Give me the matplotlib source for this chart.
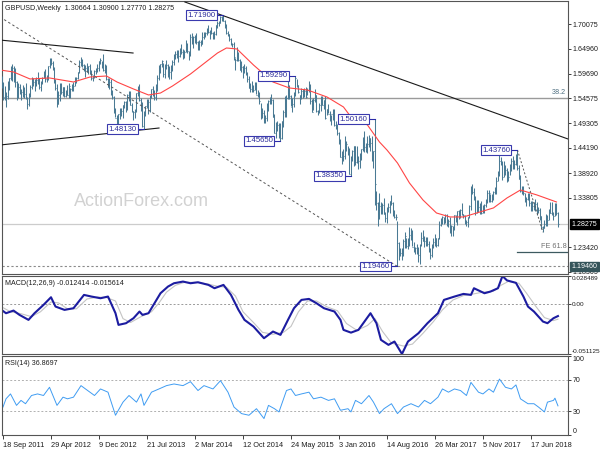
import numpy as np
import matplotlib
matplotlib.use('Agg')
import matplotlib.pyplot as plt
import matplotlib.transforms as mtransforms

plt.rcParams['font.family'] = ['Liberation Sans', 'DejaVu Sans']

# Weekly GBPUSD bars, the first one is the week of 11 Sep 2011 (index -1)
highs = [
    1.5920,
    1.5790, 1.5720,
    1.5590, 1.5810, 1.5880, 1.6140,
    1.6166, 1.6130, 1.6080, 1.5810, 1.5780,
    1.5760, 1.5650, 1.5740, 1.5700,
    1.5780, 1.5480, 1.5560, 1.5740,
    1.5900, 1.5890, 1.5860, 1.5900, 1.6000,
    1.5890, 1.5810, 1.5910, 1.6030,
    1.6060, 1.5940, 1.6140, 1.6290,
    1.6301, 1.6240, 1.6100, 1.5860, 1.5750,
    1.5600, 1.5780, 1.5770, 1.5700,
    1.5690, 1.5640, 1.5740, 1.5780,
    1.5680, 1.5750, 1.5800, 1.5910, 1.5900,
    1.6010, 1.6260, 1.6309, 1.6270,
    1.6180, 1.6160, 1.6190, 1.6140,
    1.6180, 1.6040, 1.5940, 1.6040, 1.6090,
    1.6170, 1.6240, 1.6308, 1.6230,
    1.6380, 1.6170, 1.6150, 1.5890,
    1.5870, 1.5850, 1.5640, 1.5500, 1.5250,
    1.5110, 1.5130, 1.5250, 1.5250,
    1.5310, 1.5410, 1.5410, 1.5540,
    1.5605, 1.5600, 1.5360, 1.5190,
    1.5240, 1.5560, 1.5720, 1.5752, 1.5460,
    1.5370, 1.5190, 1.5300, 1.5440,
    1.5450, 1.5520, 1.5650, 1.5720, 1.5620,
    1.5750, 1.5950, 1.6160, 1.6180,
    1.6260, 1.6190, 1.6180, 1.6260,
    1.6170, 1.6130, 1.6150, 1.6250, 1.6380,
    1.6440, 1.6470, 1.6470, 1.6500,
    1.6600, 1.6490, 1.6460, 1.6670, 1.6620,
    1.6440, 1.6800, 1.6823, 1.6760,
    1.6780, 1.6820, 1.6660, 1.6670,
    1.6670, 1.6840, 1.6840, 1.6850,
    1.6930, 1.6996, 1.6890, 1.6940, 1.6850,
    1.6860, 1.6990, 1.7060, 1.7060,
    1.7180, 1.7180, 1.7190, 1.7090,
    1.7000, 1.6860, 1.6800, 1.6710, 1.6620,
    1.6640, 1.6290, 1.6520, 1.6420,
    1.6280, 1.6230, 1.6140, 1.6180, 1.6140,
    1.6000, 1.5930, 1.5770, 1.5820,
    1.5730, 1.5790, 1.5790, 1.5640,
    1.5590, 1.5360, 1.5250, 1.5220, 1.5110,
    1.5350, 1.5420, 1.5480, 1.5550,
    1.5450, 1.5130, 1.4960, 1.4990,
    1.4950, 1.4950, 1.4990, 1.5210,
    1.5500, 1.5520, 1.5815, 1.5730, 1.5530,
    1.5460, 1.5580, 1.5929, 1.5860,
    1.5730, 1.5530, 1.5670, 1.5660, 1.5670,
    1.5690, 1.5680, 1.5820, 1.5760,
    1.5440, 1.5460, 1.5660, 1.5530,
    1.5210, 1.5360, 1.5510, 1.5510, 1.5430,
    1.5510, 1.5240, 1.5340, 1.5190,
    1.5110, 1.5240, 1.5240, 1.4980,
    1.4920, 1.4760, 1.4600, 1.4350, 1.4400,
    1.4670, 1.4560, 1.4460, 1.4410,
    1.4250, 1.4380, 1.4460, 1.4460,
    1.4460, 1.4260, 1.4320, 1.4400, 1.4640,
    1.4770, 1.4530, 1.4670, 1.4700,
    1.4630, 1.4660, 1.4360, 1.5016, 1.3530,
    1.3300, 1.3480, 1.3300, 1.3260,
    1.3370, 1.3080, 1.3190, 1.3270,
    1.3320, 1.3445, 1.3300, 1.3120, 1.3050,
    1.2900, 1.2450, 1.2340, 1.2330,
    1.2520, 1.2670, 1.2540, 1.2530,
    1.2770, 1.2740, 1.2700, 1.2460, 1.2350,
    1.2420, 1.2350, 1.2420, 1.2670,
    1.2710, 1.2580, 1.2570, 1.2570,
    1.2480, 1.2340, 1.2410, 1.2540, 1.2615,
    1.2550, 1.2550, 1.2900, 1.2965,
    1.2990, 1.2980, 1.3047, 1.3040,
    1.2930, 1.2980, 1.2810, 1.2800, 1.3030,
    1.3030, 1.3110, 1.3120, 1.3150,
    1.3270, 1.3050, 1.3010, 1.2920,
    1.2980, 1.3220, 1.3615, 1.3657, 1.3580,
    1.3420, 1.3340, 1.3340, 1.3260,
    1.3320, 1.3230, 1.3240, 1.3360,
    1.3550, 1.3540, 1.3450, 1.3460, 1.3520,
    1.3610, 1.3820, 1.3940, 1.4345,
    1.4240, 1.4150, 1.4140, 1.4060,
    1.4000, 1.3930, 1.4080, 1.4200, 1.4245,
    1.4170, 1.4290, 1.4376, 1.4060,
    1.3850, 1.3630, 1.3620, 1.3480,
    1.3390, 1.3470, 1.3470, 1.3310, 1.3320,
    1.3300, 1.3360, 1.3290, 1.3180,
    1.3170, 1.3000, 1.2780, 1.2920, 1.3040,
    1.3010, 1.3140, 1.3300, 1.3300,
    1.3090, 1.3260, 1.3260, 1.3090,
]

lows = [
    1.5680,
    1.5420, 1.5430,
    1.5272, 1.5450, 1.5630, 1.5840,
    1.5820, 1.5790, 1.5700, 1.5422, 1.5460,
    1.5540, 1.5424, 1.5490, 1.5460,
    1.5440, 1.5234, 1.5300, 1.5480,
    1.5650, 1.5710, 1.5600, 1.5720, 1.5760,
    1.5650, 1.5600, 1.5760, 1.5870,
    1.5800, 1.5800, 1.5830, 1.6090,
    1.6150, 1.6040, 1.5780, 1.5630, 1.5268,
    1.5330, 1.5400, 1.5540, 1.5500,
    1.5480, 1.5490, 1.5520, 1.5460,
    1.5470, 1.5600, 1.5600, 1.5720, 1.5770,
    1.5860, 1.5990, 1.6140, 1.6100,
    1.6020, 1.5910, 1.6000, 1.5970,
    1.5970, 1.5830, 1.5828, 1.5880, 1.5960,
    1.6000, 1.6030, 1.6170, 1.6080,
    1.6030, 1.5980, 1.5840, 1.5700,
    1.5660, 1.5520, 1.5440, 1.5150, 1.5070,
    1.4930, 1.4831, 1.5020, 1.5080,
    1.5050, 1.5250, 1.5180, 1.5220,
    1.5400, 1.5310, 1.5170, 1.5010,
    1.5050, 1.5170, 1.5500, 1.5390, 1.5190,
    1.4860, 1.4813, 1.5080, 1.5260,
    1.5130, 1.5180, 1.5460, 1.5500, 1.5430,
    1.5430, 1.5600, 1.5840, 1.5980,
    1.6100, 1.5900, 1.5890, 1.6070,
    1.5900, 1.5860, 1.5850, 1.6020, 1.6150,
    1.6280, 1.6300, 1.6220, 1.6310,
    1.6390, 1.6280, 1.6290, 1.6420, 1.6400,
    1.6250, 1.6350, 1.6580, 1.6510,
    1.6620, 1.6590, 1.6460, 1.6470,
    1.6540, 1.6590, 1.6700, 1.6740,
    1.6770, 1.6820, 1.6700, 1.6790, 1.6700,
    1.6690, 1.6770, 1.6920, 1.6960,
    1.7020, 1.7080, 1.7060, 1.6920,
    1.6800, 1.6760, 1.6650, 1.6560, 1.6530,
    1.6250, 1.6050, 1.6230, 1.6240,
    1.6050, 1.6000, 1.5870, 1.5980, 1.5940,
    1.5790, 1.5670, 1.5590, 1.5590,
    1.5590, 1.5630, 1.5540, 1.5480,
    1.5330, 1.5030, 1.5040, 1.4950, 1.4950,
    1.4980, 1.5190, 1.5330, 1.5330,
    1.5060, 1.4740, 1.4630, 1.4770,
    1.4630, 1.4565, 1.4600, 1.4860,
    1.5070, 1.5060, 1.5450, 1.5450, 1.5290,
    1.5170, 1.5270, 1.5500, 1.5700,
    1.5570, 1.5330, 1.5440, 1.5460, 1.5490,
    1.5460, 1.5520, 1.5580, 1.5340,
    1.5160, 1.5220, 1.5380, 1.5160,
    1.5110, 1.5140, 1.5200, 1.5320, 1.5230,
    1.5030, 1.5110, 1.5140, 1.4990,
    1.4900, 1.5010, 1.4870, 1.4810,
    1.4700, 1.4510, 1.4230, 1.4080, 1.4150,
    1.4190, 1.4360, 1.4280, 1.3880,
    1.3835, 1.4150, 1.4050, 1.4060,
    1.4100, 1.3990, 1.4000, 1.4160, 1.4360,
    1.4330, 1.4330, 1.4320, 1.4430,
    1.4350, 1.4150, 1.4010, 1.3220, 1.3120,
    1.2800, 1.2930, 1.3040, 1.3040,
    1.3050, 1.2870, 1.2860, 1.3090,
    1.3070, 1.3220, 1.3000, 1.2950, 1.2920,
    1.1946, 1.2090, 1.2160, 1.2080,
    1.2160, 1.2330, 1.2330, 1.2300,
    1.2380, 1.2500, 1.2370, 1.2240, 1.2200,
    1.2200, 1.2030, 1.1987, 1.2370,
    1.2470, 1.2350, 1.2380, 1.2380,
    1.2250, 1.2110, 1.2150, 1.2340, 1.2380,
    1.2360, 1.2370, 1.2520, 1.2780,
    1.2840, 1.2840, 1.2850, 1.2780,
    1.2770, 1.2640, 1.2590, 1.2590, 1.2700,
    1.2880, 1.2810, 1.2930, 1.2950,
    1.3020, 1.2950, 1.2840, 1.2780,
    1.2775, 1.2950, 1.3120, 1.3450, 1.3330,
    1.3030, 1.3070, 1.3080, 1.3050,
    1.3040, 1.3070, 1.3070, 1.3180,
    1.3280, 1.3300, 1.3300, 1.3300, 1.3340,
    1.3460, 1.3460, 1.3740, 1.3840,
    1.4060, 1.3760, 1.3820, 1.3860,
    1.3710, 1.3720, 1.3860, 1.3940, 1.3990,
    1.3970, 1.4060, 1.3960, 1.3770,
    1.3490, 1.3450, 1.3440, 1.3300,
    1.3200, 1.3330, 1.3200, 1.3100, 1.3100,
    1.3120, 1.3100, 1.3010, 1.3060,
    1.2920, 1.2720, 1.2662, 1.2750, 1.2800,
    1.2790, 1.2920, 1.3060, 1.3030,
    1.2920, 1.2990, 1.3010, 1.2777,
]

closes = [
    1.5790,
    1.5490, 1.5590,
    1.5510, 1.5790, 1.5890, 1.6080,
    1.6080, 1.6080, 1.5800, 1.5490, 1.5700,
    1.5650, 1.5580, 1.5690, 1.5540,
    1.5460, 1.5340, 1.5520, 1.5700,
    1.5810, 1.5800, 1.5810, 1.5830, 1.5820,
    1.5690, 1.5810, 1.5880, 1.5990,
    1.5850, 1.5860, 1.6140, 1.6270,
    1.6190, 1.6080, 1.5810, 1.5670, 1.5340,
    1.5520, 1.5710, 1.5590, 1.5690,
    1.5500, 1.5590, 1.5520, 1.5720,
    1.5650, 1.5670, 1.5720, 1.5790, 1.5880,
    1.6010, 1.6220, 1.6220, 1.6150,
    1.6130, 1.6090, 1.6040, 1.6130,
    1.5990, 1.5890, 1.5900, 1.6030, 1.6070,
    1.6080, 1.6240, 1.6250, 1.6100,
    1.6040, 1.6090, 1.5860, 1.5700,
    1.5790, 1.5600, 1.5490, 1.5170, 1.5050,
    1.4930, 1.5120, 1.5210, 1.5190,
    1.5310, 1.5370, 1.5230, 1.5520,
    1.5560, 1.5320, 1.5200, 1.5180,
    1.5200, 1.5560, 1.5700, 1.5420, 1.5210,
    1.4880, 1.5120, 1.5290, 1.5370,
    1.5370, 1.5480, 1.5650, 1.5570, 1.5490,
    1.5650, 1.5870, 1.6020, 1.6180,
    1.6230, 1.5960, 1.6160, 1.6160,
    1.5920, 1.6000, 1.6110, 1.6210, 1.6370,
    1.6380, 1.6320, 1.6340, 1.6460,
    1.6430, 1.6450, 1.6430, 1.6520, 1.6450,
    1.6410, 1.6740, 1.6660, 1.6740,
    1.6700, 1.6640, 1.6510, 1.6630,
    1.6600, 1.6740, 1.6800, 1.6820,
    1.6880, 1.6840, 1.6830, 1.6830, 1.6750,
    1.6790, 1.6980, 1.7020, 1.7030,
    1.7150, 1.7110, 1.7080, 1.6980,
    1.6830, 1.6790, 1.6700, 1.6580, 1.6600,
    1.6320, 1.6260, 1.6300, 1.6250,
    1.6040, 1.6100, 1.6130, 1.6090, 1.5990,
    1.5860, 1.5670, 1.5660, 1.5640,
    1.5630, 1.5720, 1.5520, 1.5540,
    1.5400, 1.5160, 1.5150, 1.4960, 1.5040,
    1.5230, 1.5390, 1.5390, 1.5430,
    1.5060, 1.4730, 1.4920, 1.4890,
    1.4900, 1.4630, 1.4990, 1.5170,
    1.5130, 1.5470, 1.5700, 1.5500, 1.5280,
    1.5330, 1.5570, 1.5880, 1.5740,
    1.5590, 1.5520, 1.5600, 1.5530, 1.5610,
    1.5480, 1.5640, 1.5700, 1.5410,
    1.5180, 1.5430, 1.5520, 1.5200,
    1.5190, 1.5320, 1.5460, 1.5320, 1.5430,
    1.5040, 1.5230, 1.5120, 1.5030,
    1.5120, 1.5220, 1.4890, 1.4890,
    1.4730, 1.4520, 1.4240, 1.4270, 1.4250,
    1.4500, 1.4500, 1.4400, 1.3870,
    1.4230, 1.4360, 1.4460, 1.4120,
    1.4210, 1.4140, 1.4200, 1.4400, 1.4620,
    1.4450, 1.4360, 1.4500, 1.4630,
    1.4520, 1.4240, 1.4350, 1.3670, 1.3280,
    1.2950, 1.3200, 1.3100, 1.3220,
    1.3050, 1.2950, 1.3100, 1.3180,
    1.3310, 1.3270, 1.3010, 1.2970, 1.2970,
    1.2430, 1.2190, 1.2230, 1.2190,
    1.2480, 1.2590, 1.2370, 1.2480,
    1.2610, 1.2600, 1.2350, 1.2280, 1.2340,
    1.2280, 1.2180, 1.2400, 1.2550,
    1.2480, 1.2480, 1.2410, 1.2410,
    1.2290, 1.2190, 1.2400, 1.2460, 1.2550,
    1.2390, 1.2540, 1.2820, 1.2940,
    1.2970, 1.2880, 1.3030, 1.2810,
    1.2890, 1.2740, 1.2780, 1.2720, 1.3020,
    1.2890, 1.3100, 1.2990, 1.3130,
    1.3040, 1.3010, 1.2870, 1.2880,
    1.2970, 1.3200, 1.3590, 1.3490, 1.3400,
    1.3060, 1.3290, 1.3190, 1.3130,
    1.3070, 1.3190, 1.3230, 1.3310,
    1.3480, 1.3480, 1.3320, 1.3370, 1.3510,
    1.3570, 1.3740, 1.3860, 1.4150,
    1.4130, 1.3820, 1.4010, 1.3960,
    1.3810, 1.3820, 1.3950, 1.4150, 1.4020,
    1.4080, 1.4240, 1.4010, 1.3780,
    1.3520, 1.3560, 1.3470, 1.3330,
    1.3360, 1.3410, 1.3270, 1.3270, 1.3200,
    1.3270, 1.3240, 1.3140, 1.3120,
    1.2990, 1.2760, 1.2750, 1.2840, 1.2960,
    1.2920, 1.3070, 1.3070, 1.3070,
    1.3000, 1.3150, 1.3060, 1.2828,
]

# 55 week moving average
ma_weeks = [-2, 7, 18, 31, 47, 58, 69, 76, 87, 97, 105, 113, 125, 131, 143, 149,
            156, 167, 180, 191, 203, 216, 227, 231, 243, 251, 256, 263, 271, 280,
            289, 298, 307, 318, 327, 336, 345, 356, 369]
ma_values = [1.6048, 1.6006, 1.5860, 1.5881, 1.5797, 1.5901, 1.5922, 1.5797,
             1.5651, 1.5526, 1.5567, 1.5713, 1.5964, 1.6110, 1.6402, 1.6507,
             1.6486, 1.6152, 1.5797, 1.5672, 1.5630, 1.5484, 1.5275, 1.5108,
             1.4899, 1.4544, 1.4377, 1.4106, 1.3688, 1.3334, 1.3062, 1.2979,
             1.2979, 1.3083, 1.3167, 1.3375, 1.3542, 1.3438, 1.3292]

macd_weeks = [-1, 2, 7, 11, 17, 21, 27, 32, 35, 41, 47, 54, 59, 65, 70, 75, 77, 82,
              87, 91, 93, 97, 101, 105, 110, 114, 120, 125, 130, 137, 141, 147,
              152, 157, 161, 167, 174, 180, 185, 190, 194, 199, 204, 209, 214,
              221, 225, 227, 232, 237, 241, 245, 249, 252, 257, 261, 266, 270,
              277, 283, 290, 294, 301, 307, 312, 314, 321, 325, 330, 333, 336,
              342, 347, 350, 354, 360, 363, 367, 370]
macd_values = [-0.0061, -0.0095, -0.0068, -0.0112, -0.0163, -0.0095, -0.0010,
               0.0068, -0.0027, -0.0061, -0.0044, 0.0092, 0.0075, 0.0058, 0.0075,
               -0.0095, -0.0214, -0.0197, -0.0146, -0.0078, -0.0112, -0.0095,
               0.0007, 0.0109, 0.0177, 0.0211, 0.0228, 0.0211, 0.0221, 0.0194,
               0.0160, 0.0194, 0.0092, -0.0061, -0.0163, -0.0231, -0.0350,
               -0.0282, -0.0316, -0.0163, -0.0044, 0.0041, 0.0051, 0.0007,
               -0.0044, -0.0078, -0.0163, -0.0265, -0.0293, -0.0265, -0.0180,
               -0.0095, -0.0197, -0.0367, -0.0418, -0.0384, -0.0511, -0.0384,
               -0.0299, -0.0197, -0.0095, 0.0041, 0.0075, 0.0102, 0.0092, 0.0160,
               0.0109, 0.0126, 0.0160, 0.0285, 0.0240, 0.0215, 0.0075, -0.0027,
               -0.0078, -0.0180, -0.0197, -0.0146, -0.0124]

signal_weeks = [-1, 5, 12, 19, 25, 32, 37, 43, 49, 56, 63, 69, 75, 80, 85, 92, 99,
                104, 109, 115, 121, 129, 136, 143, 149, 155, 160, 167, 173, 180,
                187, 192, 197, 203, 209, 216, 223, 229, 236, 243, 248, 253, 259,
                267, 273, 280, 287, 293, 300, 307, 313, 320, 327, 332, 337, 344,
                349, 355, 361, 367, 370]
signal_values = [-0.0030, -0.0080, -0.0100, -0.0130, -0.0080, 0.0020, 0.0010,
                 -0.0050, -0.0050, 0.0050, 0.0070, 0.0065, 0.0030, -0.0150,
                 -0.0190, -0.0130, -0.0080, 0.0010, 0.0120, 0.0190, 0.0220,
                 0.0220, 0.0205, 0.0180, 0.0170, 0.0080, -0.0080, -0.0190,
                 -0.0290, -0.0310, -0.0290, -0.0230, -0.0080, 0.0030, 0.0030,
                 -0.0030, -0.0070, -0.0200, -0.0270, -0.0220, -0.0150, -0.0280,
                 -0.0400, -0.0430, -0.0410, -0.0300, -0.0180, -0.0060, 0.0040,
                 0.0085, 0.0100, 0.0120, 0.0130, 0.0190, 0.0230, 0.0210, 0.0110,
                 -0.0020, -0.0140, -0.0170, -0.0156]

rsi_weeks = [0, 2, 5, 9, 12, 15, 19, 23, 27, 31, 36, 40, 43, 47, 52, 55, 61, 65,
             70, 75, 80, 84, 89, 92, 94, 99, 104, 109, 114, 120, 125, 130, 134,
             140, 145, 150, 154, 159, 164, 169, 174, 177, 181, 184, 189, 192, 195,
             199, 204, 207, 212, 217, 221, 225, 230, 232, 235, 239, 244, 247, 251,
             254, 259, 263, 267, 272, 277, 281, 285, 290, 293, 297, 301, 305, 309,
             312, 317, 320, 324, 327, 331, 335, 339, 342, 345, 350, 354, 357, 361,
             363, 367, 368, 370]
rsi_values = [35.4, 45.8, 52.0, 37.5, 43.8, 39.6, 50.0, 52.0, 50.0, 60.4, 37.5,
              47.9, 45.8, 47.9, 62.5, 58.3, 50.0, 58.3, 54.2, 25.0, 41.6, 50.0,
              41.6, 52.0, 37.5, 54.2, 58.3, 62.5, 64.6, 62.5, 67.5, 56.3, 62.5,
              58.3, 68.8, 54.2, 35.4, 27.1, 25.0, 33.3, 20.8, 37.5, 33.3, 29.2,
              56.3, 58.3, 50.0, 52.0, 54.2, 45.8, 47.9, 43.8, 45.8, 31.3, 33.3,
              29.2, 43.8, 39.6, 50.0, 41.6, 27.1, 33.3, 39.6, 27.1, 35.4, 39.6,
              35.4, 43.8, 39.6, 47.9, 58.3, 54.2, 58.3, 56.3, 50.0, 66.6, 54.2,
              52.0, 58.3, 54.2, 70.8, 60.4, 58.3, 63.4, 45.8, 39.6, 39.6, 35.4,
              29.2, 41.6, 43.8, 46.6, 36.9]

date_ticks = [0, 32, 64, 96, 128, 160, 192, 224, 256, 288, 320, 352]
date_labels = ['18 Sep 2011', '29 Apr 2012', '9 Dec 2012', '21 Jul 2013',
               '2 Mar 2014', '12 Oct 2014', '24 May 2015', '3 Jan 2016',
               '14 Aug 2016', '26 Mar 2017', '5 Nov 2017', '17 Jun 2018']
price_ticks = [1.70075, 1.64960, 1.59690, 1.54575, 1.49305, 1.44190,
               1.38920, 1.33805, 1.23420, 1.18305]
macd_ticks = [0.028489, 0.0, -0.051125]
rsi_ticks = [100, 70, 30, 0]

# swing highs / lows that carry a price label
swing_weeks = [147, 94, 195, 185, 248, 232, 263, 343]
swing_prices = [1.7190, 1.4813, 1.5929, 1.4565, 1.5016, 1.3835, 1.1946, 1.4376]

# drawn objects: (week0, week1), (price0, price1)
solid_lines = [((-2, 86.7), (1.6673, 1.6402)),
               ((-2, 104), (1.4481, 1.4836)),
               ((121.3, 376.7), (1.7467, 1.4607))]
dashed_line = ((-2, 263), (1.7154, 1.1946))
dotted_line = ((343, 360), (1.4376, 1.2662))
fibo_level = 1.5470
fe_level = 1.2248
fe_start = 343
last_price = 1.28275
low_level = 1.1946

bar_color = '#4a7a94'
frame_color = '#555555'
text_color = '#1e1e1e'
xlim = (-0.67, 376.7)
fs = 5.1

fig = plt.figure(figsize=(6, 4.5), dpi=100)
fig.patch.set_facecolor('white')

ax = fig.add_axes([2 / 600, 1 - 274 / 450, 566 / 600, 273 / 450])
ax_macd = fig.add_axes([2 / 600, 1 - 354 / 450, 566 / 600, 78 / 450])
ax_rsi = fig.add_axes([2 / 600, 1 - 435 / 450, 566 / 600, 79 / 450])

for a in (ax, ax_macd, ax_rsi):
    a.set_xlim(*xlim)
    a.yaxis.tick_right()
    for s in a.spines.values():
        s.set_color(frame_color)
        s.set_linewidth(0.8)
    a.tick_params(axis='y', direction='out', length=2, width=0.6, labelsize=fs,
                  pad=1.2, colors=text_color)
    a.tick_params(axis='x', direction='out', length=3, width=0.6, labelsize=fs + 0.2,
                  pad=2, colors=text_color)

# ---- main price panel
ax.set_ylim(1.1788, 1.7488)
ax.set_xticks([])

ax.axhline(fibo_level, color='#9a9a9a', lw=1.0, zorder=1)
ax.axhline(last_price, color='#cccccc', lw=0.9, zorder=1)
ax.axhline(low_level, color='#8a8a8a', lw=0.8, ls=(0, (2, 2)), zorder=1)
ax.plot([fe_start, xlim[1]], [fe_level, fe_level], color='#3d5a60', lw=0.9)

weeks = np.arange(len(closes)) - 1
ax.vlines(weeks, lows, highs, color=bar_color, lw=0.75, zorder=3)
ax.hlines(closes, weeks, weeks + 0.6, color=bar_color, lw=0.75, zorder=3)

ax.plot(ma_weeks, ma_values, color='#ff4545', lw=0.8, zorder=4)

for wx, py in solid_lines:
    ax.plot(wx, py, color='#1a1a1a', lw=0.8, zorder=4)
ax.plot(dashed_line[0], dashed_line[1], color='#555555', lw=0.7,
        ls=(0, (2.5, 2.5)), zorder=4)
ax.plot(dotted_line[0], dotted_line[1], color='#555555', lw=0.7,
        ls=(0, (2, 2)), zorder=4)

for w, p in zip(swing_weeks, swing_prices):
    ax.plot([w - 5, w], [p, p], color='#2b2ba6', lw=0.8, zorder=5)
    ax.text(w - 5, p, '%.5f' % p, ha='right', va='center', fontsize=5.6,
            color='#2b2b9a', zorder=6,
            bbox=dict(boxstyle='square,pad=0.18', fc='white', ec='#3a3aae', lw=0.8))

blend = mtransforms.blended_transform_factory(ax.transAxes, ax.transData)
ax.text(0.997, fibo_level + 0.004, '38.2', transform=blend, ha='right',
        va='bottom', fontsize=5.2, color='#4d6e80')
ax.text(0.997, fe_level + 0.004, 'FE 61.8', transform=blend, ha='right',
        va='bottom', fontsize=5.2, color='#707070')

ax.set_yticks(price_ticks)
ax.set_yticklabels(['%.5f' % v for v in price_ticks])
for lab in ax.get_yticklabels():
    lab.set_ha('left')

ax.text(1.006, last_price, '%.5f' % last_price, transform=blend, ha='left',
        va='center', fontsize=fs, color='white', clip_on=False, zorder=7,
        bbox=dict(boxstyle='square,pad=0.2', fc='black', ec='black'))
ax.text(1.006, low_level, '%.5f' % low_level, transform=blend, ha='left',
        va='center', fontsize=fs, color='white', clip_on=False, zorder=7,
        bbox=dict(boxstyle='square,pad=0.2', fc='#35545a', ec='#35545a'))

ax.text(0.006, 0.985, 'GBPUSD,Weekly  1.30664 1.30900 1.27770 1.28275',
        transform=ax.transAxes, ha='left', va='top', fontsize=fs, color=text_color)
fig.text(141 / 600, 1 - 202 / 450, 'ActionForex.com', ha='center', va='center',
         fontsize=13, color='#d2d2d2')

# ---- MACD panel
ax_macd.set_ylim(-0.051125, 0.028489)
ax_macd.set_xticks([])
ax_macd.tick_params(axis='y', labelsize=4.6, pad=1.0)
ax_macd.axhline(0, color='#9a9a9a', lw=0.7, ls=(0, (2, 2)))
ax_macd.plot(signal_weeks, signal_values, color='#c4c4c4', lw=0.8)
ax_macd.plot(macd_weeks, macd_values, color='#1c1ca0', lw=1.5)
ax_macd.set_yticks(macd_ticks)
ax_macd.set_yticklabels(['0.028489', '0.00', '-0.051125'])
labs = ax_macd.get_yticklabels()
labs[0].set_va('top')
labs[2].set_va('bottom')
for lab in labs:
    lab.set_ha('left')
ax_macd.text(0.006, 0.95, 'MACD(12,26,9) -0.012414 -0.015614', transform=ax_macd.transAxes,
             ha='left', va='top', fontsize=fs, color=text_color)

# ---- RSI panel
ax_rsi.set_ylim(0, 100)
ax_rsi.axhline(70, color='#b0b0b0', lw=0.7, ls=(0, (2, 2)))
ax_rsi.axhline(30, color='#b0b0b0', lw=0.7, ls=(0, (2, 2)))
ax_rsi.plot(rsi_weeks, rsi_values, color='#3f9cf2', lw=0.7)
ax_rsi.set_yticks(rsi_ticks)
ax_rsi.set_yticklabels([str(v) for v in rsi_ticks])
labs = ax_rsi.get_yticklabels()
labs[0].set_va('top')
labs[3].set_va('bottom')
for lab in labs:
    lab.set_ha('left')
ax_rsi.set_xticks(date_ticks)
ax_rsi.set_xticklabels(date_labels)
for lab in ax_rsi.get_xticklabels():
    lab.set_ha('left')
ax_rsi.text(0.006, 0.95, 'RSI(14) 36.8697', transform=ax_rsi.transAxes,
            ha='left', va='top', fontsize=fs, color=text_color)

fig.savefig('out.png', dpi=100, facecolor='white')
